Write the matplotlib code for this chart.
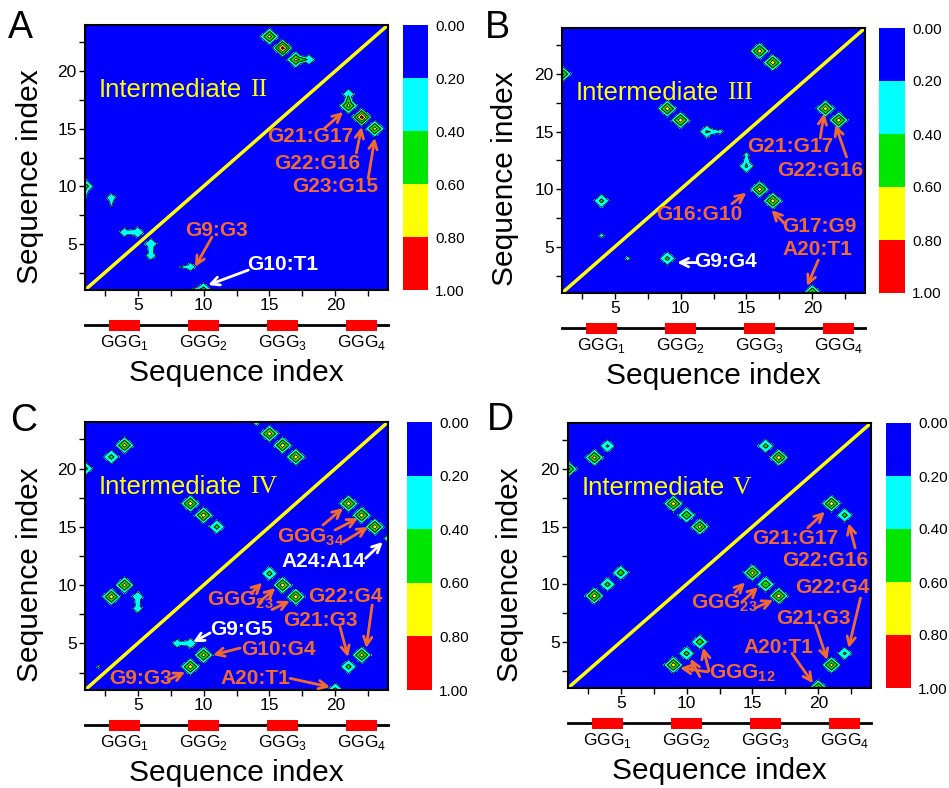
import numpy as np
import matplotlib
matplotlib.use("Agg")
import matplotlib.pyplot as plt
import matplotlib.tri as mtri
from matplotlib.ticker import MultipleLocator

plt.rcParams['font.family'] = ['Liberation Sans', 'DejaVu Sans']
plt.rcParams['mathtext.fontset'] = 'custom'
plt.rcParams['mathtext.rm'] = 'Liberation Sans'
plt.rcParams['mathtext.bf'] = 'Liberation Sans:bold'

# ---- data -----------------------------------------------------------------
seq = np.arange(1, 25)
levels = [0.0, 0.2, 0.4, 0.6, 0.8, 1.0]
level_colors = ['#0000FF', '#00FFFF', '#00E600', '#FFFF00', '#FF0000']

# contact probabilities (i, j, p) with i > j, the map is symmetric
contacts_II = [(22, 16, 0.90), (23, 15, 0.72), (21, 17, 0.70), (21, 18, 0.36),
               (9, 3, 0.32), (8, 3, 0.18), (10, 1, 0.55), (9, 1, 0.22),
               (6, 5, 0.38), (6, 4, 0.33)]
contacts_III = [(21, 17, 0.75), (22, 16, 0.75), (16, 10, 0.75), (17, 9, 0.75),
                (20, 1, 0.70), (9, 4, 0.48), (15, 12, 0.45), (15, 13, 0.26),
                (6, 4, 0.25)]
contacts_IV = [(21, 17, 0.75), (22, 16, 0.75), (23, 15, 0.75), (24, 14, 0.30),
               (15, 11, 0.50), (16, 10, 0.75), (17, 9, 0.75), (22, 4, 0.72),
               (21, 3, 0.50), (20, 1, 0.50), (10, 4, 0.72), (9, 3, 0.75),
               (8, 5, 0.32), (9, 5, 0.36), (3, 2, 0.23)]
contacts_V = [(21, 17, 0.75), (22, 16, 0.50), (15, 11, 0.72), (16, 10, 0.62),
              (17, 9, 0.75), (22, 4, 0.45), (21, 3, 0.72), (20, 1, 0.70),
              (9, 3, 0.75), (10, 4, 0.50), (11, 5, 0.55)]

numerals = ['II', 'III', 'IV', 'V']

ggg_centers = [4, 10, 16, 22]
ggg_labels = ['GGG$_1$', 'GGG$_2$', 'GGG$_3$', 'GGG$_4$']

OR = '#F26B2E'
WH = 'white'

# labels: (text, x, y, colour); arrows: (tail x, tail y, head x, head y, colour)
labels_A = [('G21:G17', 18.1, 14.3, OR), ('G22:G16', 18.65, 12.0, OR),
            ('G23:G15', 20.0, 9.95, OR), ('G9:G3', 10.95, 6.2, OR),
            ('G10:T1', 16.0, 3.2, WH)]
arrows_A = [(19.2, 15.06, 20.6, 16.45, OR), (21.6, 12.9, 22.0, 15.15, OR),
            (22.5, 10.7, 23.0, 14.2, OR), (10.64, 5.6, 9.35, 3.0, OR),
            (13.4, 2.73, 10.35, 1.43, WH)]

labels_B = [('G21:G17', 18.3, 13.7, OR), ('G22:G16', 20.6, 11.6, OR),
            ('G16:G10', 11.4, 7.8, OR), ('G17:G9', 20.55, 6.75, OR),
            ('A20:T1', 20.4, 4.75, OR), ('G9:G4', 13.4, 3.7, WH)]
arrows_B = [(20.6, 14.45, 20.9, 16.6, OR), (22.6, 12.8, 21.75, 15.6, OR),
            (13.9, 8.75, 15.0, 9.7, OR), (18.0, 6.9, 16.9, 8.2, OR),
            (20.46, 3.86, 19.6, 1.6, OR), (11.3, 3.64, 9.74, 3.64, WH)]

labels_C = [(r'GGG$_\mathbf{34}$', 18.1, 14.1, OR), ('A24:A14', 19.07, 12.0, WH),
            (r'GGG$_\mathbf{23}$', 12.77, 8.7, OR), ('G22:G4', 20.74, 9.0, OR),
            ('G21:G3', 18.86, 7.0, OR), ('G9:G5', 12.85, 6.15, WH),
            ('G10:G4', 15.65, 4.45, OR), ('G9:G3', 5.18, 2.0, OR),
            ('A20:T1', 13.9, 2.0, OR)]
arrows_C = [(19.07, 15.16, 20.59, 16.62, OR), (19.98, 14.73, 21.73, 15.76, OR),
            (20.59, 13.7, 22.49, 14.99, OR), (22.3, 12.3, 23.6, 13.7, WH),
            (13.6, 9.3, 14.45, 10.2, OR), (14.2, 8.5, 15.45, 9.75, OR),
            (15.2, 7.9, 16.55, 8.65, OR), (22.8, 8.3, 22.34, 4.6, OR),
            (20.36, 6.4, 20.97, 3.83, OR), (10.5, 5.9, 9.2, 5.1, WH),
            (12.77, 4.6, 10.72, 4.0, OR), (7.3, 1.85, 8.6, 2.55, OR),
            (16.57, 2.0, 19.6, 1.25, OR)]

labels_D = [('G21:G17', 18.24, 14.0, OR), ('G22:G16', 20.5, 12.1, OR),
            ('G22:G4', 21.1, 9.7, OR), ('G21:G3', 19.6, 7.0, OR),
            ('A20:T1', 16.94, 4.55, OR), (r'GGG$_\mathbf{23}$', 12.85, 8.37, OR),
            (r'GGG$_\mathbf{12}$', 14.2, 2.3, OR)]
arrows_D = [(19.2, 14.9, 20.5, 16.3, OR), (22.8, 13.15, 22.3, 15.3, OR),
            (23.2, 8.8, 22.3, 4.47, OR), (19.8, 6.47, 20.68, 3.43, OR),
            (18.0, 4.0, 19.6, 1.4, OR),
            (13.68, 9.3, 14.44, 10.17, OR), (14.2, 8.46, 15.43, 9.76, OR),
            (15.2, 7.94, 16.57, 8.64, OR),
            (11.6, 2.4, 9.5, 2.75, OR), (11.0, 2.0, 10.3, 3.55, OR),
            (11.7, 2.5, 11.25, 4.5, OR)]

# ---- layout (pixels) ------------------------------------------------------
W, H = 949, 788
panels = [
    dict(letter='A', contacts=contacts_II, labels=labels_A, arrows=arrows_A,
         main=(85, 25, 388, 290), cbar=(403, 428), ylab=(30, 177), let=(8, 10)),
    dict(letter='B', contacts=contacts_III, labels=labels_B, arrows=arrows_B,
         main=(562, 28, 865, 293), cbar=(879, 905), ylab=(505, 179), let=(485, 10)),
    dict(letter='C', contacts=contacts_IV, labels=labels_C, arrows=arrows_C,
         main=(85, 422, 388, 690), cbar=(407, 432), ylab=(30, 575), let=(10, 403)),
    dict(letter='D', contacts=contacts_V, labels=labels_D, arrows=arrows_D,
         main=(568, 423, 871, 688), cbar=(886, 911), ylab=(510, 575), let=(487, 402)),
]


def rect(l, t, r, b):
    return [l / W, 1 - b / H, (r - l) / W, (b - t) / H]


def contact_map(contacts):
    z = np.zeros((len(seq), len(seq)))
    for i, j, p in contacts:
        z[j - 1, i - 1] = p
        z[i - 1, j - 1] = p
    return z


# triangulation: residue grid nodes plus zero-valued cell centres, each cell
# split into four triangles, so diagonal neighbours stay separate diamonds
n = len(seq)
gx, gy = np.meshgrid(seq, seq)
mid = seq[:-1] + 0.5
cx, cy = np.meshgrid(mid, mid)
triangles = []
for r_ in range(n - 1):
    for c_ in range(n - 1):
        a = r_ * n + c_
        bq = a + 1
        cq = a + n + 1
        dq = a + n
        m = n * n + r_ * (n - 1) + c_
        triangles += [(a, bq, m), (bq, cq, m), (cq, dq, m), (dq, a, m)]
tri = mtri.Triangulation(np.r_[gx.ravel(), cx.ravel()],
                         np.r_[gy.ravel(), cy.ravel()], triangles)

fig = plt.figure(figsize=(W / 100, H / 100), dpi=100)

for k, p in enumerate(panels):
    l, t, r, b = p['main']
    ax = fig.add_axes(rect(l, t, r, b))
    Z = contact_map(p['contacts'])
    zv = np.r_[Z.ravel(), np.zeros(cx.size)]
    cf = ax.tricontourf(tri, zv, levels=levels, colors=level_colors)
    ax.tricontour(tri, zv, levels=levels[1:-1], colors='k', linewidths=0.6)
    ax.plot([seq[0], seq[-1]], [seq[0], seq[-1]], color='#FFFF00', lw=2.5)
    ax.set_xlim(seq[0], seq[-1])
    ax.set_ylim(seq[0], seq[-1])
    for axis in (ax.xaxis, ax.yaxis):
        axis.set_major_locator(MultipleLocator(5))
        axis.set_minor_locator(MultipleLocator(2.5))
    ax.set_xticks([5, 10, 15, 20])
    ax.set_yticks([5, 10, 15, 20])
    ax.tick_params(which='both', direction='out', length=4, width=1,
                   labelsize=12.5, pad=2)
    for s in ax.spines.values():
        s.set_linewidth(1.5)

    tt = ax.text(2.0, 18.4, 'Intermediate', color='#FFFF00', fontsize=18.5,
                 va='center', ha='left')
    ax.annotate(numerals[k], xy=(1, 0.5), xycoords=tt, xytext=(6, 0),
                textcoords='offset points', color='#FFFF00', fontsize=18.5,
                va='center', ha='left', family='Liberation Serif')

    for txt, x, y, c in p['labels']:
        ax.text(x, y, txt, color=c, fontsize=15, fontweight='bold',
                ha='center', va='center', zorder=5)
    for tx, ty, hx, hy, c in p['arrows']:
        ax.annotate('', xy=(hx, hy), xytext=(tx, ty), zorder=5,
                    arrowprops=dict(arrowstyle='->', color=c, lw=2,
                                    mutation_scale=15, shrinkA=0, shrinkB=0))

    # colour bar
    cl, cr = p['cbar']
    cax = fig.add_axes(rect(cl, t, cr, b))
    cb = fig.colorbar(cf, cax=cax)
    cb.set_ticks(levels)
    cb.set_ticklabels([f'{v:.2f}' for v in levels])
    cax.invert_yaxis()
    cax.tick_params(length=0, labelsize=11, pad=5)
    cb.outline.set_visible(False)

    # sequence schematic
    axs = fig.add_axes(rect(l, b + 25, r, b + 45))
    axs.set_xlim(seq[0], seq[-1])
    axs.set_ylim(-1, 1)
    axs.axis('off')
    axs.plot([seq[0], seq[-1]], [0, 0], color='k', lw=2, clip_on=False)
    axs.bar(ggg_centers, 1.1, width=2.4, bottom=-0.55, color='#FF0000',
            zorder=3)
    for c, lab in zip(ggg_centers, ggg_labels):
        axs.text(c, -1.8, lab, ha='center', va='center', fontsize=12.5)

    fig.text((l + r) / 2 / W, 1 - (b + 83) / H, 'Sequence index',
             ha='center', va='center', fontsize=21.5)
    yx, yy = p['ylab']
    fig.text(yx / W, 1 - yy / H, 'Sequence index', rotation=90,
             ha='center', va='center', fontsize=21.5)
    lx, ly = p['let']
    fig.text(lx / W, 1 - ly / H, p['letter'], ha='left', va='top', fontsize=27)

fig.savefig('out.png', dpi=100)
